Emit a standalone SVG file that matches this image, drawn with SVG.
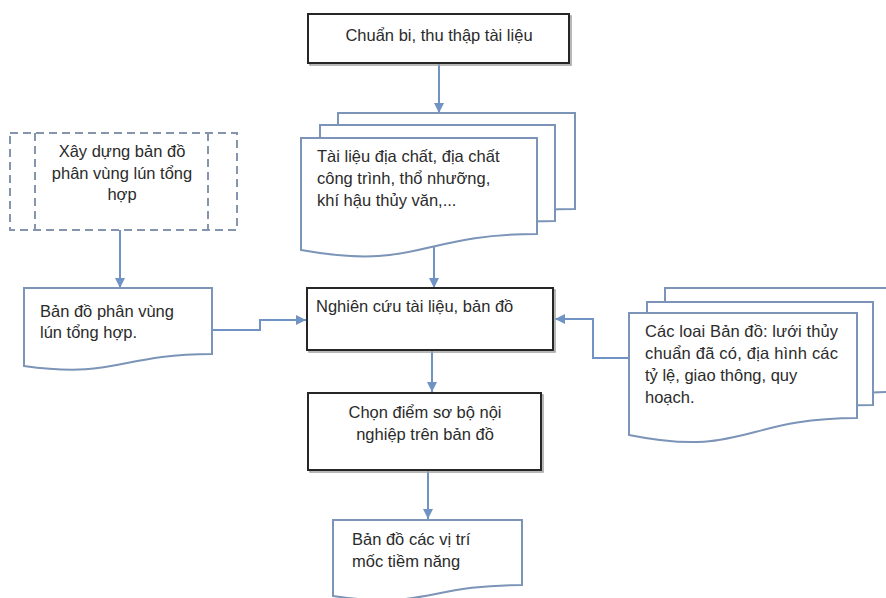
<svg xmlns="http://www.w3.org/2000/svg" width="886" height="598" viewBox="0 0 886 598">
<defs>
<marker id="ah" viewBox="0 0 10 10" refX="10" refY="5" markerWidth="10" markerHeight="10" markerUnits="userSpaceOnUse" orient="auto">
<path d="M0,0 L10,5 L0,10 Z" fill="#6f93c4"/>
</marker>
<style>
.t{font-family:"Liberation Sans",Arial,sans-serif;font-size:16.5px;fill:#2b2b2b}
.c{text-anchor:middle}
.box{fill:#fff;stroke:#262626;stroke-width:2}
.sh{fill:none;stroke:#a0a0a0;stroke-width:1.5}
.doc{fill:#fff;stroke:#7b94b8;stroke-width:2}
.dash{fill:none;stroke:#8595ad;stroke-width:2;stroke-dasharray:8 5}
.con{fill:none;stroke:#6f93c4;stroke-width:2;marker-end:url(#ah)}
</style>
</defs>
<rect width="886" height="598" fill="#fff"/>

<g id="connectors">
<path class="con" d="M439,63 V113"/>
<path class="con" d="M434,247 V288"/>
<path class="con" d="M120,230 V288"/>
<path class="con" d="M212,330 H260 V320 H306"/>
<path class="con" d="M629,358 H593 V319 H555"/>
<path class="con" d="M432,350 V392"/>
<path class="con" d="M428,471 V519"/>
</g>

<g id="n1">
<rect class="sh" x="310" y="16" width="261" height="49"/>
<rect class="box" x="308" y="14" width="261" height="49"/>
<text class="t c" x="439" y="41">Chuẩn bi, thu thập tài liệu</text>
</g>

<g id="n2">
<path class="doc" d="M338,113 H575 V209 C456,209 456,246 338,225 Z"/>
<path class="doc" d="M320,125 H555 V221 C437,221 437,258 320,237 Z"/>
<path class="doc" d="M301,138 H537 V234 C419,234 419,271 301,250 Z"/>
<text class="t" x="317" y="162">Tài liệu địa chất, địa chất</text>
<text class="t" x="317" y="184">công trình, thổ nhưỡng,</text>
<text class="t" x="317" y="206">khí hậu thủy văn,...</text>
</g>

<g id="n3">
<rect class="dash" x="10" y="133" width="227" height="97"/>
<path class="dash" d="M35,133 V230 M208,133 V230"/>
<text class="t c" x="122" y="157">Xây dựng bản đồ</text>
<text class="t c" x="122" y="179">phân vùng lún tổng</text>
<text class="t c" x="122" y="200">hợp</text>
</g>

<g id="n4">
<path class="doc" d="M24,288 H212 V354 C118,354 118,379 24,366 Z"/>
<text class="t" x="40" y="317">Bản đồ phân vùng</text>
<text class="t" x="40" y="338">lún tổng hợp.</text>
</g>

<g id="n5">
<rect class="sh" x="309" y="290" width="246" height="62"/>
<rect class="box" x="307" y="288" width="246" height="62"/>
<text class="t" x="316" y="312">Nghiên cứu tài liệu, bản đồ</text>
</g>

<g id="n6">
<path class="doc" d="M665,288 H893 V392 C779,392 779,432 665,410 Z"/>
<path class="doc" d="M647,302 H873 V405 C760,405 760,445 647,423 Z"/>
<path class="doc" d="M629,313 H857 V418 C743,418 743,458 629,435 Z"/>
<text class="t" x="645" y="337" textLength="193" lengthAdjust="spacing">Các loai Bản đồ: lưới thủy</text>
<text class="t" x="645" y="359" textLength="193" lengthAdjust="spacing">chuẩn đã có, địa hình các</text>
<text class="t" x="645" y="381">tỷ lệ, giao thông, quy</text>
<text class="t" x="645" y="403">hoạch.</text>
</g>

<g id="n7">
<rect class="sh" x="310" y="395" width="233" height="77"/>
<rect class="box" x="308" y="393" width="233" height="77"/>
<text class="t c" x="425" y="418">Chọn điểm sơ bộ nội</text>
<text class="t c" x="425" y="440">nghiệp trên bản đồ</text>
</g>

<g id="n8">
<path class="doc" d="M333,520 H522 V585 C427,585 427,610 333,596 Z"/>
<text class="t" x="352" y="545">Bản đồ các vị trí</text>
<text class="t" x="352" y="567">mốc tiềm năng</text>
</g>
</svg>
